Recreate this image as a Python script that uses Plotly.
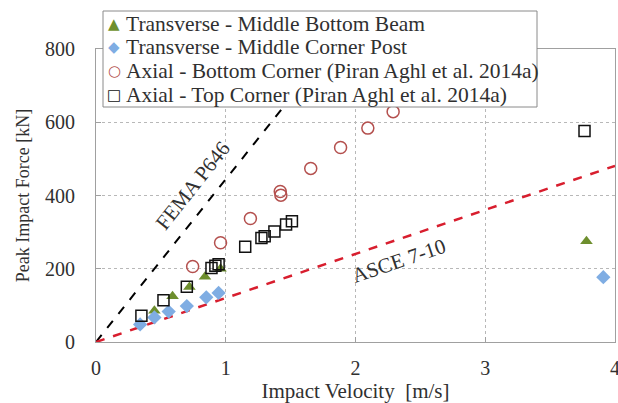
import plotly.graph_objects as go

# ---- data ----
beam_v = [0.45, 0.59, 0.72, 0.84, 0.96, 3.78]
beam_F = [85, 125, 150, 178, 200, 275]

post_v = [0.34, 0.45, 0.56, 0.70, 0.85, 0.945, 3.91]
post_F = [48, 67, 83, 98, 122, 134, 177]

bottom_v = [0.745, 0.96, 1.19, 1.42, 1.425, 1.655, 1.885, 2.095, 2.29]
bottom_F = [206, 271, 337, 411, 401, 474, 531, 584, 629]

top_v = [0.35, 0.52, 0.70, 0.89, 0.92, 0.945, 1.15, 1.275, 1.30, 1.375, 1.465, 1.51, 3.765]
top_F = [72, 114, 151, 202, 208, 212, 260, 284, 289, 302, 321, 330, 576]

fema_v = [0, 1.8]
fema_F = [0, 800]
asce_v = [0, 4]
asce_F = [0, 481]

x_ticks = [0, 1, 2, 3, 4]
y_ticks = [0, 200, 400, 600, 800]

legend_names = ["Transverse - Middle Bottom Beam",
                "Transverse - Middle Corner Post",
                "Axial - Bottom Corner (Piran Aghl et al. 2014a)",
                "Axial - Top Corner (Piran Aghl et al. 2014a)"]
legend_symbols = ["\u25B2", "\u25C6", "\u25CB", "\u25A1"]

FONT = "Liberation Serif"
TXT = "#303030"
C_BEAM = "#6E8F2E"
C_POST = "#7FADE3"
C_BOT = "#B4504E"
C_TOP = "#111111"
legend_colors = [C_BEAM, C_POST, C_BOT, C_TOP]

W, H = 618, 403
ML, MR, MT, MB = 96, 3, 49, 61
PW, PH = W - ML - MR, H - MT - MB


def px_x(px):
    return (px - ML) / PW


def px_y(py):
    return (H - MB - py) / PH


fig = go.Figure()

fig.add_trace(go.Scatter(x=fema_v, y=fema_F, mode="lines", showlegend=False,
                         line=dict(color="black", width=2, dash="dash")))
fig.add_trace(go.Scatter(x=asce_v, y=asce_F, mode="lines", showlegend=False,
                         line=dict(color="#D81E2E", width=2.5, dash="dash")))

fig.add_trace(go.Scatter(x=beam_v, y=beam_F, mode="markers", name=legend_names[0],
                         showlegend=False,
                         marker=dict(symbol="triangle-up", size=11, color=C_BEAM)))
fig.add_trace(go.Scatter(x=post_v, y=post_F, mode="markers", name=legend_names[1],
                         showlegend=False,
                         marker=dict(symbol="diamond", size=11, color=C_POST)))
fig.add_trace(go.Scatter(x=bottom_v, y=bottom_F, mode="markers", name=legend_names[2],
                         showlegend=False,
                         marker=dict(symbol="circle-open", size=12, color=C_BOT,
                                     line=dict(width=1.5, color=C_BOT))))
fig.add_trace(go.Scatter(x=top_v, y=top_F, mode="markers", name=legend_names[3],
                         showlegend=False,
                         marker=dict(symbol="square-open", size=11, color=C_TOP,
                                     line=dict(width=1.5, color=C_TOP))))

fig.add_annotation(x=0.75, y=428, text="FEMA P646", showarrow=False,
                   textangle=-51.5, font=dict(family=FONT, size=21, color=TXT))
fig.add_annotation(x=2.33, y=222, text="ASCE 7-10", showarrow=False,
                   textangle=-18.7, font=dict(family=FONT, size=21, color=TXT))

# legend box (drawn as shapes/annotations for exact row spacing)
fig.add_shape(type="rect", xref="paper", yref="paper",
              x0=px_x(103), x1=px_x(537), y0=px_y(107), y1=px_y(11),
              fillcolor="white", line=dict(color="#8A8A8A", width=1), layer="above")
row_y = [24, 47, 71, 95]
for name, sym, col, ry in zip(legend_names, legend_symbols, legend_colors, row_y):
    fig.add_annotation(xref="paper", yref="paper", x=px_x(114), y=px_y(ry),
                       text=sym, showarrow=False, xanchor="center", yanchor="middle",
                       font=dict(family="DejaVu Sans", size=15, color=col))
    fig.add_annotation(xref="paper", yref="paper", x=px_x(124), y=px_y(ry),
                       text=name, showarrow=False, xanchor="left", yanchor="middle",
                       font=dict(family=FONT, size=21.5, color=TXT))

axis_common = dict(showline=True, linecolor="#A0A0A0", linewidth=1, mirror=True,
                   showgrid=True, gridcolor="#B8B8B8", griddash="dot", gridwidth=1,
                   ticks="inside", ticklen=5, tickcolor="#A0A0A0",
                   zeroline=False, automargin=False, ticklabeloverflow="allow",
                   tickfont=dict(family=FONT, size=20, color=TXT))

fig.update_xaxes(range=[0, 4], tickvals=x_ticks, ticklabelstandoff=8,
                 title=dict(text="Impact Velocity  [m/s]", standoff=0,
                            font=dict(family=FONT, size=21, color=TXT)),
                 **axis_common)
fig.update_yaxes(range=[0, 800], tickvals=y_ticks, ticklabelstandoff=16,
                 title=dict(text="Peak Impact Force [kN]", standoff=10,
                            font=dict(family=FONT, size=18, color=TXT)),
                 **axis_common)

fig.update_layout(
    width=W, height=H,
    margin=dict(l=ML, r=MR, t=MT, b=MB, autoexpand=False),
    plot_bgcolor="white", paper_bgcolor="white",
    font=dict(family=FONT, color=TXT),
    showlegend=False,
)

fig.write_html("out.html", config={"displayModeBar": False},
               post_script="document.body.style.margin='0';document.body.style.overflow='hidden';")
